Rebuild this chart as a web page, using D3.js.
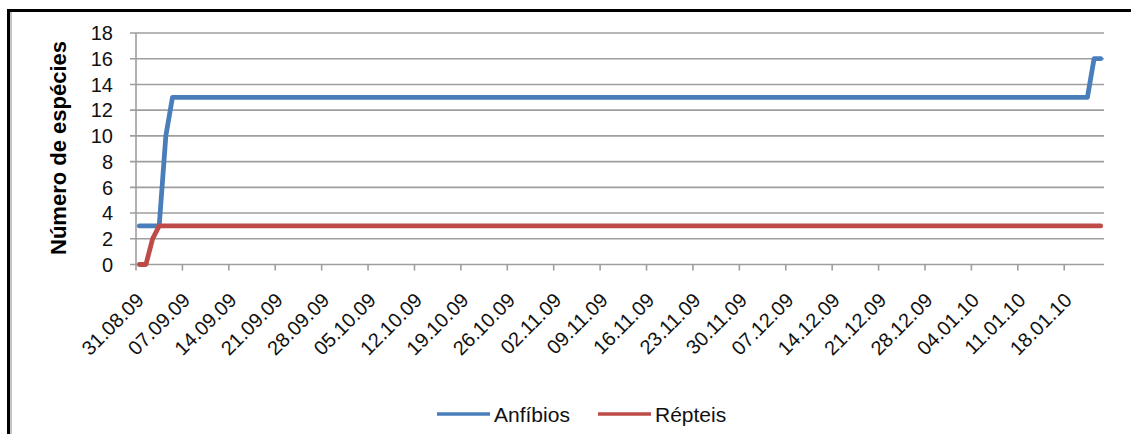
<!DOCTYPE html>
<html><head><meta charset="utf-8">
<script src="https://cdn.jsdelivr.net/npm/d3@7"></script>
<style>html,body{margin:0;padding:0;background:#fff;}svg{display:block;font-family:"Liberation Sans",Arial,sans-serif;}</style>
</head><body>
<svg id="chart" width="1131" height="434"></svg>
<script>
const dates = ["31.08.09","01.09.09","02.09.09","03.09.09","04.09.09","05.09.09","21.01.10","22.01.10","23.01.10"];
const anfibios = [3,3,3,3,10,13,13,16,16];
const repteis  = [0,0,2,3,3,3,3,3,3];
const seriesNames = ["Anfíbios","Répteis"];
const yTicks = [0,2,4,6,8,10,12,14,16,18];
const xTickLabels = ["31.08.09","07.09.09","14.09.09","21.09.09","28.09.09","05.10.09","12.10.09","19.10.09","26.10.09","02.11.09","09.11.09","16.11.09","23.11.09","30.11.09","07.12.09","14.12.09","21.12.09","28.12.09","04.01.10","11.01.10","18.01.10"];
const axisStart = "31.08.09", axisEnd = "24.01.10";

const parse = d3.timeParse("%d.%m.%y");
const colors = ["#4a7ebb","#be4b48"];
const svg = d3.select("#chart");

// frame
svg.append("rect").attr("x",8.5).attr("y",10.5).attr("width",1140).attr("height",440)
  .attr("fill","none").attr("stroke","#000").attr("stroke-width",3);
svg.append("line").attr("x1",11).attr("x2",11).attr("y1",12).attr("y2",434).attr("stroke","#b0b0b0").attr("stroke-width",1.5);

const x = d3.scaleTime().domain([parse(axisStart), parse(axisEnd)]).range([136, 1104]);
const y = d3.scaleLinear().domain([0,18]).range([264.5, 33]);
const mid = d => d3.timeHour.offset(parse(d), 12);

const g = svg.append("g");
g.selectAll("line.grid").data(yTicks).join("line")
  .attr("x1",130).attr("x2",1104).attr("y1",d=>y(d)).attr("y2",d=>y(d))
  .attr("stroke","#9e9e9e").attr("stroke-width",1.6);
g.append("line").attr("x1",136).attr("x2",136).attr("y1",y(18)).attr("y2",y(0))
  .attr("stroke","#9e9e9e").attr("stroke-width",1.6);
g.selectAll("line.xt").data(xTickLabels).join("line")
  .attr("x1",d=>x(parse(d))).attr("x2",d=>x(parse(d))).attr("y1",y(0)).attr("y2",y(0)+6)
  .attr("stroke","#9e9e9e").attr("stroke-width",1.6);
g.selectAll("text.yl").data(yTicks).join("text")
  .attr("x",113).attr("y",d=>y(d)).attr("dy","0.36em").attr("text-anchor","end")
  .attr("font-size",20).attr("fill","#111").text(d=>d);
g.selectAll("text.xl").data(xTickLabels).join("text")
  .attr("transform",d=>`translate(${x(parse(d))+9},${y(0)+37}) rotate(-45)`)
  .attr("text-anchor","end").attr("font-size",20).attr("fill","#111").text(d=>d);
svg.append("text").attr("transform","translate(66,148) rotate(-90)").attr("text-anchor","middle")
  .attr("font-size",22).attr("font-weight","bold").attr("fill","#000").text("Número de espécies");

const line = d3.line().x((d,i)=>x(mid(dates[i]))).y(d=>y(d));
[anfibios, repteis].forEach((s,k)=>{
  svg.append("path").attr("d",line(s)).attr("fill","none").attr("stroke",colors[k])
    .attr("stroke-width",4.8).attr("stroke-linejoin","round").attr("stroke-linecap","round");
});

const legX = [437, 598];
seriesNames.forEach((n,k)=>{
  svg.append("line").attr("x1",legX[k]).attr("x2",legX[k]+53).attr("y1",414).attr("y2",414)
    .attr("stroke",colors[k]).attr("stroke-width",3.5);
  svg.append("text").attr("x",legX[k]+57).attr("y",422).attr("font-size",21).attr("fill","#111").text(n);
});
</script>
</body></html>
